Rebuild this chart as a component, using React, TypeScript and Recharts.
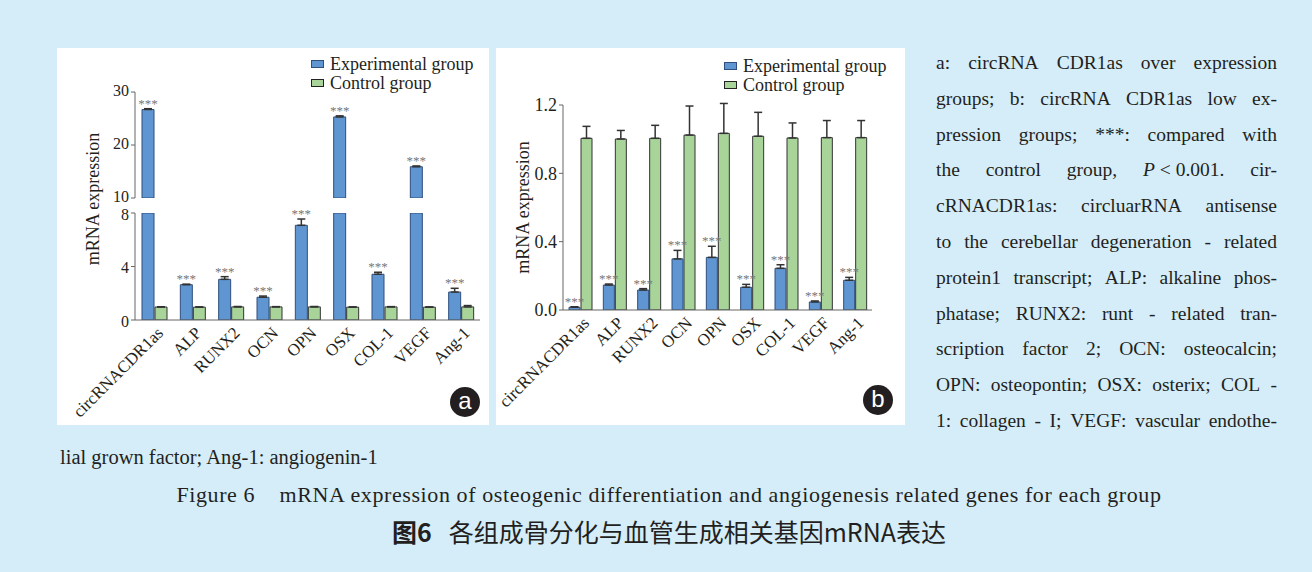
import React from 'react';
import { BarChart, Bar, XAxis, YAxis, ErrorBar, LabelList } from 'recharts';

const categories = ['circRNACDR1as', 'ALP', 'RUNX2', 'OCN', 'OPN', 'OSX', 'COL-1', 'VEGF', 'Ang-1'];

// a: CDR1as over-expression
const expA = [26.7, 2.64, 3.04, 1.7, 7.08, 25.3, 3.42, 15.9, 2.09];
const expAErr = [0.15, 0.04, 0.2, 0.09, 0.47, 0.2, 0.15, 0.15, 0.28];
const ctrlA = [0.97, 0.96, 0.98, 0.98, 0.98, 0.96, 0.98, 0.96, 0.98];
const ctrlAErr = [0.02, 0.02, 0.03, 0.02, 0.03, 0.02, 0.02, 0.02, 0.1];

// b: CDR1as low expression
const expB = [0.016, 0.146, 0.117, 0.299, 0.308, 0.133, 0.244, 0.047, 0.174];
const expBErr = [0.003, 0.006, 0.008, 0.05, 0.065, 0.017, 0.021, 0.006, 0.017];
const ctrlB = [1.005, 1.001, 1.005, 1.024, 1.034, 1.017, 1.007, 1.009, 1.009];
const ctrlBErr = [0.07, 0.05, 0.076, 0.17, 0.175, 0.14, 0.088, 0.1, 0.1];

const ticksATop = [10, 20, 30];
const ticksALow = [0, 4, 8];
const ticksB = [0, 0.4, 0.8, 1.2];
const LOW_MAX = 8;
const HIGH_MIN = 10;

const noteLines = [
  'a: circRNA CDR1as over expression',
  'groups; b: circRNA CDR1as low ex-',
  'pression groups; ***: compared with',
  null, // line with italic P
  'cRNACDR1as: circluarRNA antisense',
  'to the cerebellar degeneration - related',
  'protein1 transcript; ALP: alkaline phos-',
  'phatase; RUNX2: runt - related tran-',
  'scription factor 2; OCN: osteocalcin;',
  'OPN: osteopontin; OSX: osterix; COL -',
  '1: collagen - I; VEGF: vascular endothe-',
];

const SERIF = '"Liberation Serif", "Times New Roman", Tinos, "DejaVu Serif", "Noto Serif", serif';
const INK = '#231f20';
const BG = '#d5edf9';
const AXIS = '#666';
const EXP_FILL = '#5f95d0';
const EXP_STROKE = '#2f4f7f';
const CTRL_FILL = '#a8d49a';
const CTRL_STROKE = '#333';
const STAR = '#777';

const rowsA = categories.map((name, i) => ({
  name,
  exp: expA[i],
  gap: expAErr[i],
  expErr: [0, expAErr[i]],
  ctrl: ctrlA[i],
  ctrlErr: [0, ctrlAErr[i]],
}));

const dataATop = rowsA.map((r) => {
  const tall = r.exp > HIGH_MIN;
  return {
    ...r,
    exp: tall ? r.exp : null,
    gap: tall ? r.gap : null,
    expErr: tall ? r.expErr : null,
    ctrl: null,
    ctrlErr: null,
    star: tall ? '***' : null,
  };
});

const dataALow = rowsA.map((r) => {
  const short = r.exp < LOW_MAX;
  return { ...r, expErr: short ? r.expErr : null, star: short ? '***' : null };
});

const dataB = categories.map((name, i) => ({
  name,
  exp: expB[i],
  gap: expBErr[i],
  expErr: [0, expBErr[i]],
  ctrl: ctrlB[i],
  ctrlErr: [0, ctrlBErr[i]],
  star: '***',
}));

const SlantTick = ({ x, y, payload }: any) => (
  <g transform={`translate(${x + 10},${y + 6})`}>
    <text textAnchor="end" transform="rotate(-45)" fontSize={17} style={{ fontFamily: SERIF }} fill={INK}>
      {payload.value}
    </text>
  </g>
);

const yTick = { fontSize: 16, fill: INK, style: { fontFamily: SERIF } };

function Series({ size }: { size: number }) {
  return [
    <Bar key="exp" dataKey="exp" stackId="e" fill={EXP_FILL} stroke={EXP_STROKE} strokeWidth={1} isAnimationActive={false}>
      <ErrorBar dataKey="expErr" direction="y" width={4} stroke={CTRL_STROKE} strokeWidth={1.5} />
    </Bar>,
    <Bar key="gap" dataKey="gap" stackId="e" fill="none" stroke="none" isAnimationActive={false}>
      <LabelList dataKey="star" position="top" offset={1} fill={STAR} fontSize={size} style={{ fontFamily: SERIF, fill: STAR }} />
    </Bar>,
    <Bar key="ctrl" dataKey="ctrl" fill={CTRL_FILL} stroke={CTRL_STROKE} strokeWidth={1} isAnimationActive={false}>
      <ErrorBar dataKey="ctrlErr" direction="y" width={4} stroke={CTRL_STROKE} strokeWidth={1.5} />
    </Bar>,
  ];
}

const Legend = ({ left, top }: { left: number; top: number }) => (
  <div style={{ position: 'absolute', left, top, fontSize: 18, lineHeight: '18.5px', whiteSpace: 'nowrap' }}>
    {[
      ['Experimental group', EXP_FILL, EXP_STROKE],
      ['Control group', CTRL_FILL, '#222'],
    ].map(([label, fill, stroke]) => (
      <div key={label} style={{ display: 'flex', alignItems: 'center' }}>
        <span style={{ display: 'inline-block', width: 11, height: 6, background: fill, border: `1px solid ${stroke}`, marginRight: 6 }} />
        {label}
      </div>
    ))}
  </div>
);

const Badge = ({ left, top, letter }: { left: number; top: number; letter: string }) => (
  <div
    style={{
      position: 'absolute', left: left - 15, top: top - 15, width: 30, height: 30, borderRadius: '50%',
      background: INK, color: '#fff', fontFamily: '"Liberation Sans", Arial, sans-serif', fontSize: 24,
      display: 'flex', alignItems: 'center', justifyContent: 'center', lineHeight: 1, paddingBottom: 2, boxSizing: 'border-box',
    }}
  >
    {letter}
  </div>
);

export default function App() {
  return (
    <div style={{ position: 'absolute', left: 0, top: 0, width: 1312, height: 572, background: BG, fontFamily: SERIF, color: INK, overflow: 'hidden' }}>
      <div style={{ position: 'absolute', left: 57, top: 48, width: 432, height: 377, background: '#fff' }} />
      <div style={{ position: 'absolute', left: 496, top: 48, width: 409, height: 377, background: '#fff' }} />

      {/* panel a, upper segment of the broken axis */}
      <div style={{ position: 'absolute', left: 57, top: 48 }}>
        <BarChart width={432} height={160} data={dataATop} margin={{ top: 44, right: 9, bottom: 10, left: 18 }} barSize={12} barGap={1}>
          <XAxis dataKey="name" hide />
          <YAxis domain={[HIGH_MIN, 30]} ticks={ticksATop} allowDataOverflow width={60} tickSize={4} tick={{ ...yTick, dy: -1.5 }}
            axisLine={{ stroke: AXIS }} tickLine={{ stroke: AXIS }} interval={0} />
          {Series({ size: 13 })}
        </BarChart>
      </div>

      {/* panel a, lower segment */}
      <div style={{ position: 'absolute', left: 57, top: 205 }}>
        <BarChart width={432} height={220} data={dataALow} margin={{ top: 8, right: 9, bottom: 5, left: 18 }} barSize={12} barGap={1}>
          <XAxis dataKey="name" interval={0} height={100} tickLine={false} axisLine={{ stroke: AXIS }} tick={<SlantTick />} />
          <YAxis domain={[0, LOW_MAX]} ticks={ticksALow} allowDataOverflow width={60} tickSize={4} tick={{ ...yTick, dy: 1 }}
            axisLine={{ stroke: AXIS }} tickLine={{ stroke: AXIS }} interval={0} />
          {Series({ size: 13 })}
        </BarChart>
      </div>

      <div style={{ position: 'absolute', left: 93, top: 199, transform: 'translate(-50%, -50%) rotate(-90deg)', fontSize: 18, whiteSpace: 'nowrap' }}>
        mRNA expression
      </div>
      <Legend left={311} top={55} />
      <Badge left={465} top={402} letter="a" />

      {/* panel b */}
      <div style={{ position: 'absolute', left: 496, top: 48 }}>
        <BarChart width={409} height={377} data={dataB} margin={{ top: 57, right: 33, bottom: 5, left: 12 }} barSize={11} barGap={1}>
          <XAxis dataKey="name" interval={0} height={110} tickLine={false} axisLine={{ stroke: AXIS }} tick={<SlantTick />} />
          <YAxis domain={[0, 1.2]} ticks={ticksB} allowDataOverflow width={55} tickSize={4}
            tick={{ ...yTick, fontSize: 18 }} tickFormatter={(v: number) => v.toFixed(1)}
            axisLine={{ stroke: AXIS }} tickLine={{ stroke: AXIS }} interval={0}
            label={{ value: 'mRNA expression', angle: -90, position: 'insideLeft', offset: 15, fontSize: 18, fill: INK, style: { textAnchor: 'middle', fontFamily: SERIF } }} />
          {Series({ size: 13 })}
        </BarChart>
      </div>
      <Legend left={724} top={57} />
      <Badge left={878} top={400} letter="b" />

      {/* notes */}
      <div style={{ position: 'absolute', left: 936, top: 45, width: 341, fontSize: 19.5, lineHeight: '35.8px' }}>
        {noteLines.map((line, i) => (
          <div key={i} style={{ whiteSpace: 'nowrap', display: 'flex', justifyContent: 'space-between' }}>
            {line === null
              ? ['the', 'control', 'group,', <span key="p"><i>P</i> &lt; 0.001.</span>, 'cir-'].map((w, j) => <span key={j}>{w}</span>)
              : line.split(' ').map((w, j) => <span key={j}>{w}</span>)}
          </div>
        ))}
      </div>
      <div style={{ position: 'absolute', left: 60, top: 445, fontSize: 20.5, lineHeight: '24px', whiteSpace: 'nowrap' }}>
        lial grown factor; Ang-1: angiogenin-1
      </div>
      <div style={{ position: 'absolute', left: 669, top: 483, transform: 'translateX(-50%)', fontSize: 22, letterSpacing: 0.6, lineHeight: '24px', whiteSpace: 'nowrap' }}>
        Figure 6&nbsp;&nbsp;&nbsp;&nbsp;mRNA expression of osteogenic differentiation and angiogenesis related genes for each group
      </div>
      <div style={{ position: 'absolute', left: 669, top: 516, transform: 'translateX(-50%)', fontSize: 25, lineHeight: '30px', whiteSpace: 'nowrap', fontFamily: '"Noto Sans CJK SC", sans-serif' }}>
        <b>图6</b>&nbsp;&nbsp;&nbsp;各组成骨分化与血管生成相关基因mRNA表达
      </div>
    </div>
  );
}
